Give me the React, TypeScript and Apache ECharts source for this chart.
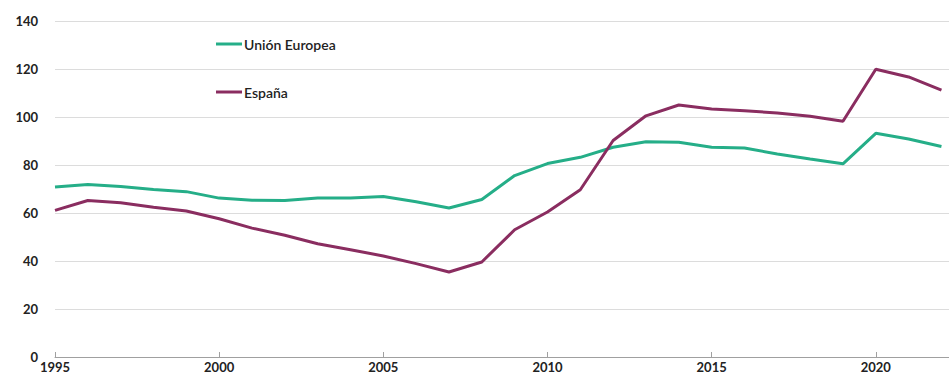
import React, { useEffect, useRef } from "react";
import * as echarts from "echarts";

const years = [1995, 1996, 1997, 1998, 1999, 2000, 2001, 2002, 2003, 2004, 2005, 2006, 2007, 2008, 2009, 2010, 2011, 2012, 2013, 2014, 2015, 2016, 2017, 2018, 2019, 2020, 2021, 2022];
const unionEuropea = [70.8, 71.9, 71.0, 69.8, 68.9, 66.2, 65.3, 65.2, 66.2, 66.3, 66.9, 64.7, 62.1, 65.6, 75.6, 80.6, 83.2, 87.4, 89.7, 89.5, 87.4, 87.1, 84.6, 82.5, 80.5, 93.2, 90.8, 87.7];
const espana = [61.1, 65.2, 64.3, 62.4, 60.8, 57.6, 53.7, 50.7, 47.2, 44.7, 42.1, 38.9, 35.4, 39.6, 53.0, 60.4, 69.7, 90.2, 100.5, 105.0, 103.3, 102.6, 101.7, 100.3, 98.2, 119.9, 116.7, 111.2];
const yTicks = { min: 0, max: 140, interval: 20 };
const xTicks = { min: 1995, max: 2022.23, interval: 5 };

const GREEN = "#25ae88";
const PURPLE = "#8a2d60";
const FONT = "Lato";

export default function App() {
  const ref = useRef<HTMLDivElement>(null);
  useEffect(() => {
    if (!ref.current) return;
    const chart = echarts.init(ref.current, undefined, { renderer: "svg" });
    chart.setOption({
      animation: false,
      backgroundColor: "#ffffff",
      textStyle: { fontFamily: FONT },
      grid: { left: 55, right: 0, top: 21, bottom: 22, containLabel: false },
      legend: [
        {
          data: ["Unión Europea"],
          left: 211,
          top: 32,
          icon: "rect",
          itemWidth: 26,
          itemHeight: 3,
          itemGap: 4,
          textStyle: { fontFamily: FONT, fontSize: 14, fontWeight: 600, color: "#222", padding: [0, 0, 0, -3] },
        },
        {
          data: ["España"],
          left: 211,
          top: 80,
          icon: "rect",
          itemWidth: 26,
          itemHeight: 3,
          textStyle: { fontFamily: FONT, fontSize: 14, fontWeight: 600, color: "#222", padding: [0, 0, 0, -3] },
        },
      ],
      xAxis: {
        type: "value",
        min: xTicks.min,
        max: xTicks.max,
        interval: xTicks.interval,
        axisLine: { show: true, lineStyle: { color: "#a0a0a0", width: 1 } },
        axisTick: { show: true, inside: true, length: 5, lineStyle: { color: "#a0a0a0" } },
        splitLine: { show: false },
        axisLabel: {
          showMaxLabel: false,
          margin: 3,
          fontFamily: FONT,
          fontSize: 13,
          fontWeight: "bold",
          color: "#222",
          formatter: (v: number) => (v % 5 === 0 ? String(v) : ""),
        },
      },
      yAxis: {
        type: "value",
        min: yTicks.min,
        max: yTicks.max,
        interval: yTicks.interval,
        axisLine: { show: false },
        axisTick: { show: false },
        splitLine: { show: true, lineStyle: { color: "#dcdcdc", width: 1 } },
        axisLabel: {
          margin: 17,
          fontFamily: FONT,
          fontSize: 13,
          fontWeight: "bold",
          color: "#222",
        },
      },
      series: [
        {
          name: "Unión Europea",
          type: "line",
          data: years.map((y, i) => [y, unionEuropea[i]]),
          showSymbol: false,
          symbol: "none",
          lineStyle: { color: GREEN, width: 3 },
          itemStyle: { color: GREEN },
        },
        {
          name: "España",
          type: "line",
          data: years.map((y, i) => [y, espana[i]]),
          showSymbol: false,
          symbol: "none",
          lineStyle: { color: PURPLE, width: 3 },
          itemStyle: { color: PURPLE },
        },
      ],
    });
    return () => chart.dispose();
  }, []);
  return <div ref={ref} style={{ width: 949, height: 379, position: "absolute", left: 0, top: 0 }} />;
}
